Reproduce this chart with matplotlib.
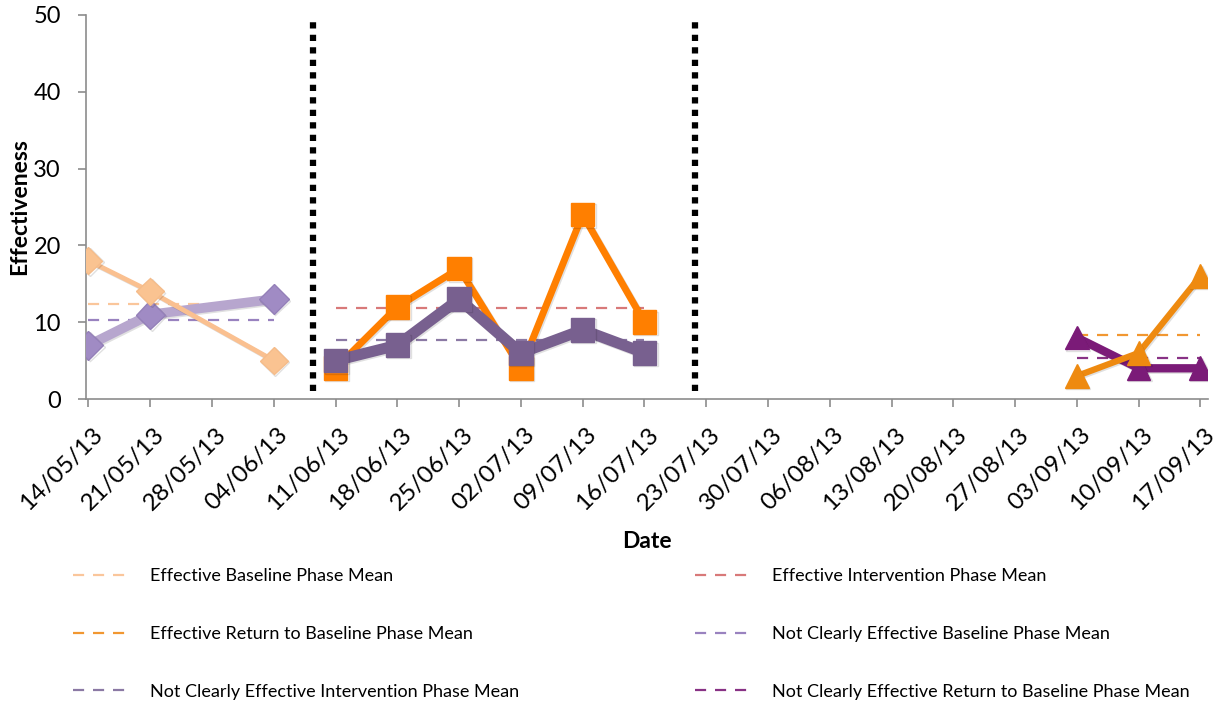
import matplotlib.pyplot as plt
import matplotlib.patheffects as pe
import matplotlib.transforms as mtransforms
import numpy as np

plt.rcParams['font.family'] = ['Lato', 'DejaVu Sans']

# ---------------- data ----------------
dates = ['14/05/13', '21/05/13', '28/05/13', '04/06/13', '11/06/13', '18/06/13',
         '25/06/13', '02/07/13', '09/07/13', '16/07/13', '23/07/13', '30/07/13',
         '06/08/13', '13/08/13', '20/08/13', '27/08/13', '03/09/13', '10/09/13',
         '17/09/13']

baseline_dates = ['14/05/13', '21/05/13', '04/06/13']
eff_baseline = [18, 14, 5]
nce_baseline = [7, 11, 13]

interv_dates = ['11/06/13', '18/06/13', '25/06/13', '02/07/13', '09/07/13', '16/07/13']
eff_interv = [4, 12, 17, 4, 24, 10]
nce_interv = [5, 7, 13, 6, 9, 6]

return_dates = ['03/09/13', '10/09/13', '17/09/13']
eff_return = [3, 6, 16]
nce_return = [8, 4, 4]

# phase change lines (between categories)
phase_breaks = [3.63, 9.82]


def idx(labels):
    return np.array([dates.index(d) for d in labels])


def main():
    fig = plt.figure(figsize=(12.25, 7.08), dpi=100)
    ax = fig.add_axes([0.0702, 0.4364, 0.9158, 0.5426])

    shadow = [pe.SimpleLineShadow(offset=(1, -1), alpha=0.12, rho=0.6), pe.Normal()]

    # ---------------- series ----------------
    xb = idx(baseline_dates)
    ax.plot(xb, nce_baseline, color='#B7A6CE', lw=7, marker='D', ms=15,
            mfc='#A08BC4', mec='#9480B8', zorder=3, path_effects=shadow)
    ax.plot(xb, eff_baseline, color='#FAC090', lw=3.5, marker='D', ms=14,
            mfc='#FAC391', mec='#F5BC8A', zorder=4, path_effects=shadow)

    xi = idx(interv_dates)
    ax.plot(xi, eff_interv, color='#FF7F00', lw=5, marker='s', ms=17,
            mfc='#FF7F00', mec='#FF7F00', zorder=3, path_effects=shadow)
    ax.plot(xi, nce_interv, color='#78608F', lw=8, marker='s', ms=17,
            mfc='#78608F', mec='#78608F', zorder=4, path_effects=shadow)

    xr = idx(return_dates)
    ax.plot(xr, nce_return, color='#7B1B78', lw=6, marker='^', ms=17,
            mfc='#7B1B78', mec='#7B1B78', zorder=3, path_effects=shadow)
    ax.plot(xr, eff_return, color='#EE8A10', lw=4.5, marker='^', ms=17,
            mfc='#EE8A10', mec='#EE8A10', zorder=4, path_effects=shadow)

    # ---------------- phase means ----------------
    means = [
        (xb, eff_baseline, '#FAC090', 'Effective Baseline Phase Mean'),
        (xi, eff_interv, '#D46A6A', 'Effective Intervention Phase Mean'),
        (xr, eff_return, '#F08C1A', 'Effective Return to Baseline Phase Mean'),
        (xb, nce_baseline, '#8E74B8', 'Not Clearly Effective Baseline Phase Mean'),
        (xi, nce_interv, '#7F6A9A', 'Not Clearly Effective Intervention Phase Mean'),
        (xr, nce_return, '#7B1B78', 'Not Clearly Effective Return to Baseline Phase Mean'),
    ]
    handles = []
    for xs, ys, c, lab in means:
        m = np.mean(ys)
        h, = ax.plot([xs[0], xs[-1]], [m, m], color=c, lw=1.6, ls=(0, (5, 4)),
                     alpha=0.9, zorder=2, label=lab)
        handles.append(h)

    # ---------------- phase change lines ----------------
    ax.vlines(phase_breaks, 1, 49.2, colors='black', lw=4.5, linestyles=(0, (1, 1)), zorder=5)

    # ---------------- axes ----------------
    ax.set_xlim(-0.04, 18.12)
    ax.set_ylim(0, 50)
    ax.set_yticks(np.arange(0, 51, 10))
    ax.set_xticks(range(len(dates)))
    ax.set_xticklabels(dates, rotation=45, ha='right', rotation_mode='anchor')
    ax.tick_params(axis='both', color='#8C8C8C', length=6, width=1.2, direction='out')
    ax.tick_params(axis='y', labelsize=17, pad=12)
    ax.tick_params(axis='x', labelsize=17.5, pad=12)
    shift = mtransforms.ScaledTranslation(0.035, 0, fig.dpi_scale_trans)
    for lab in ax.get_xticklabels():
        lab.set_transform(lab.get_transform() + shift)
    for s in ['top', 'right']:
        ax.spines[s].set_visible(False)
    for s in ['left', 'bottom']:
        ax.spines[s].set_color('#8C8C8C')
        ax.spines[s].set_linewidth(1.2)

    ax.set_ylabel('Effectiveness', fontsize=16.5, fontweight='bold', labelpad=2)
    ax.set_xlabel('Date', fontsize=16.5, fontweight='bold', labelpad=12)

    # legend: column-major filling, reorder to read row-wise
    order = [0, 2, 4, 1, 3, 5]
    fig.legend([handles[i] for i in order], [means[i][3] for i in order],
               loc='upper left', bbox_to_anchor=(0.046, 0.22), ncol=2,
               frameon=False, fontsize=13, handlelength=3.1, handletextpad=1.2,
               columnspacing=9.7, labelspacing=2.3)

    fig.savefig('out.png', dpi=100)


if __name__ == '__main__':
    main()
